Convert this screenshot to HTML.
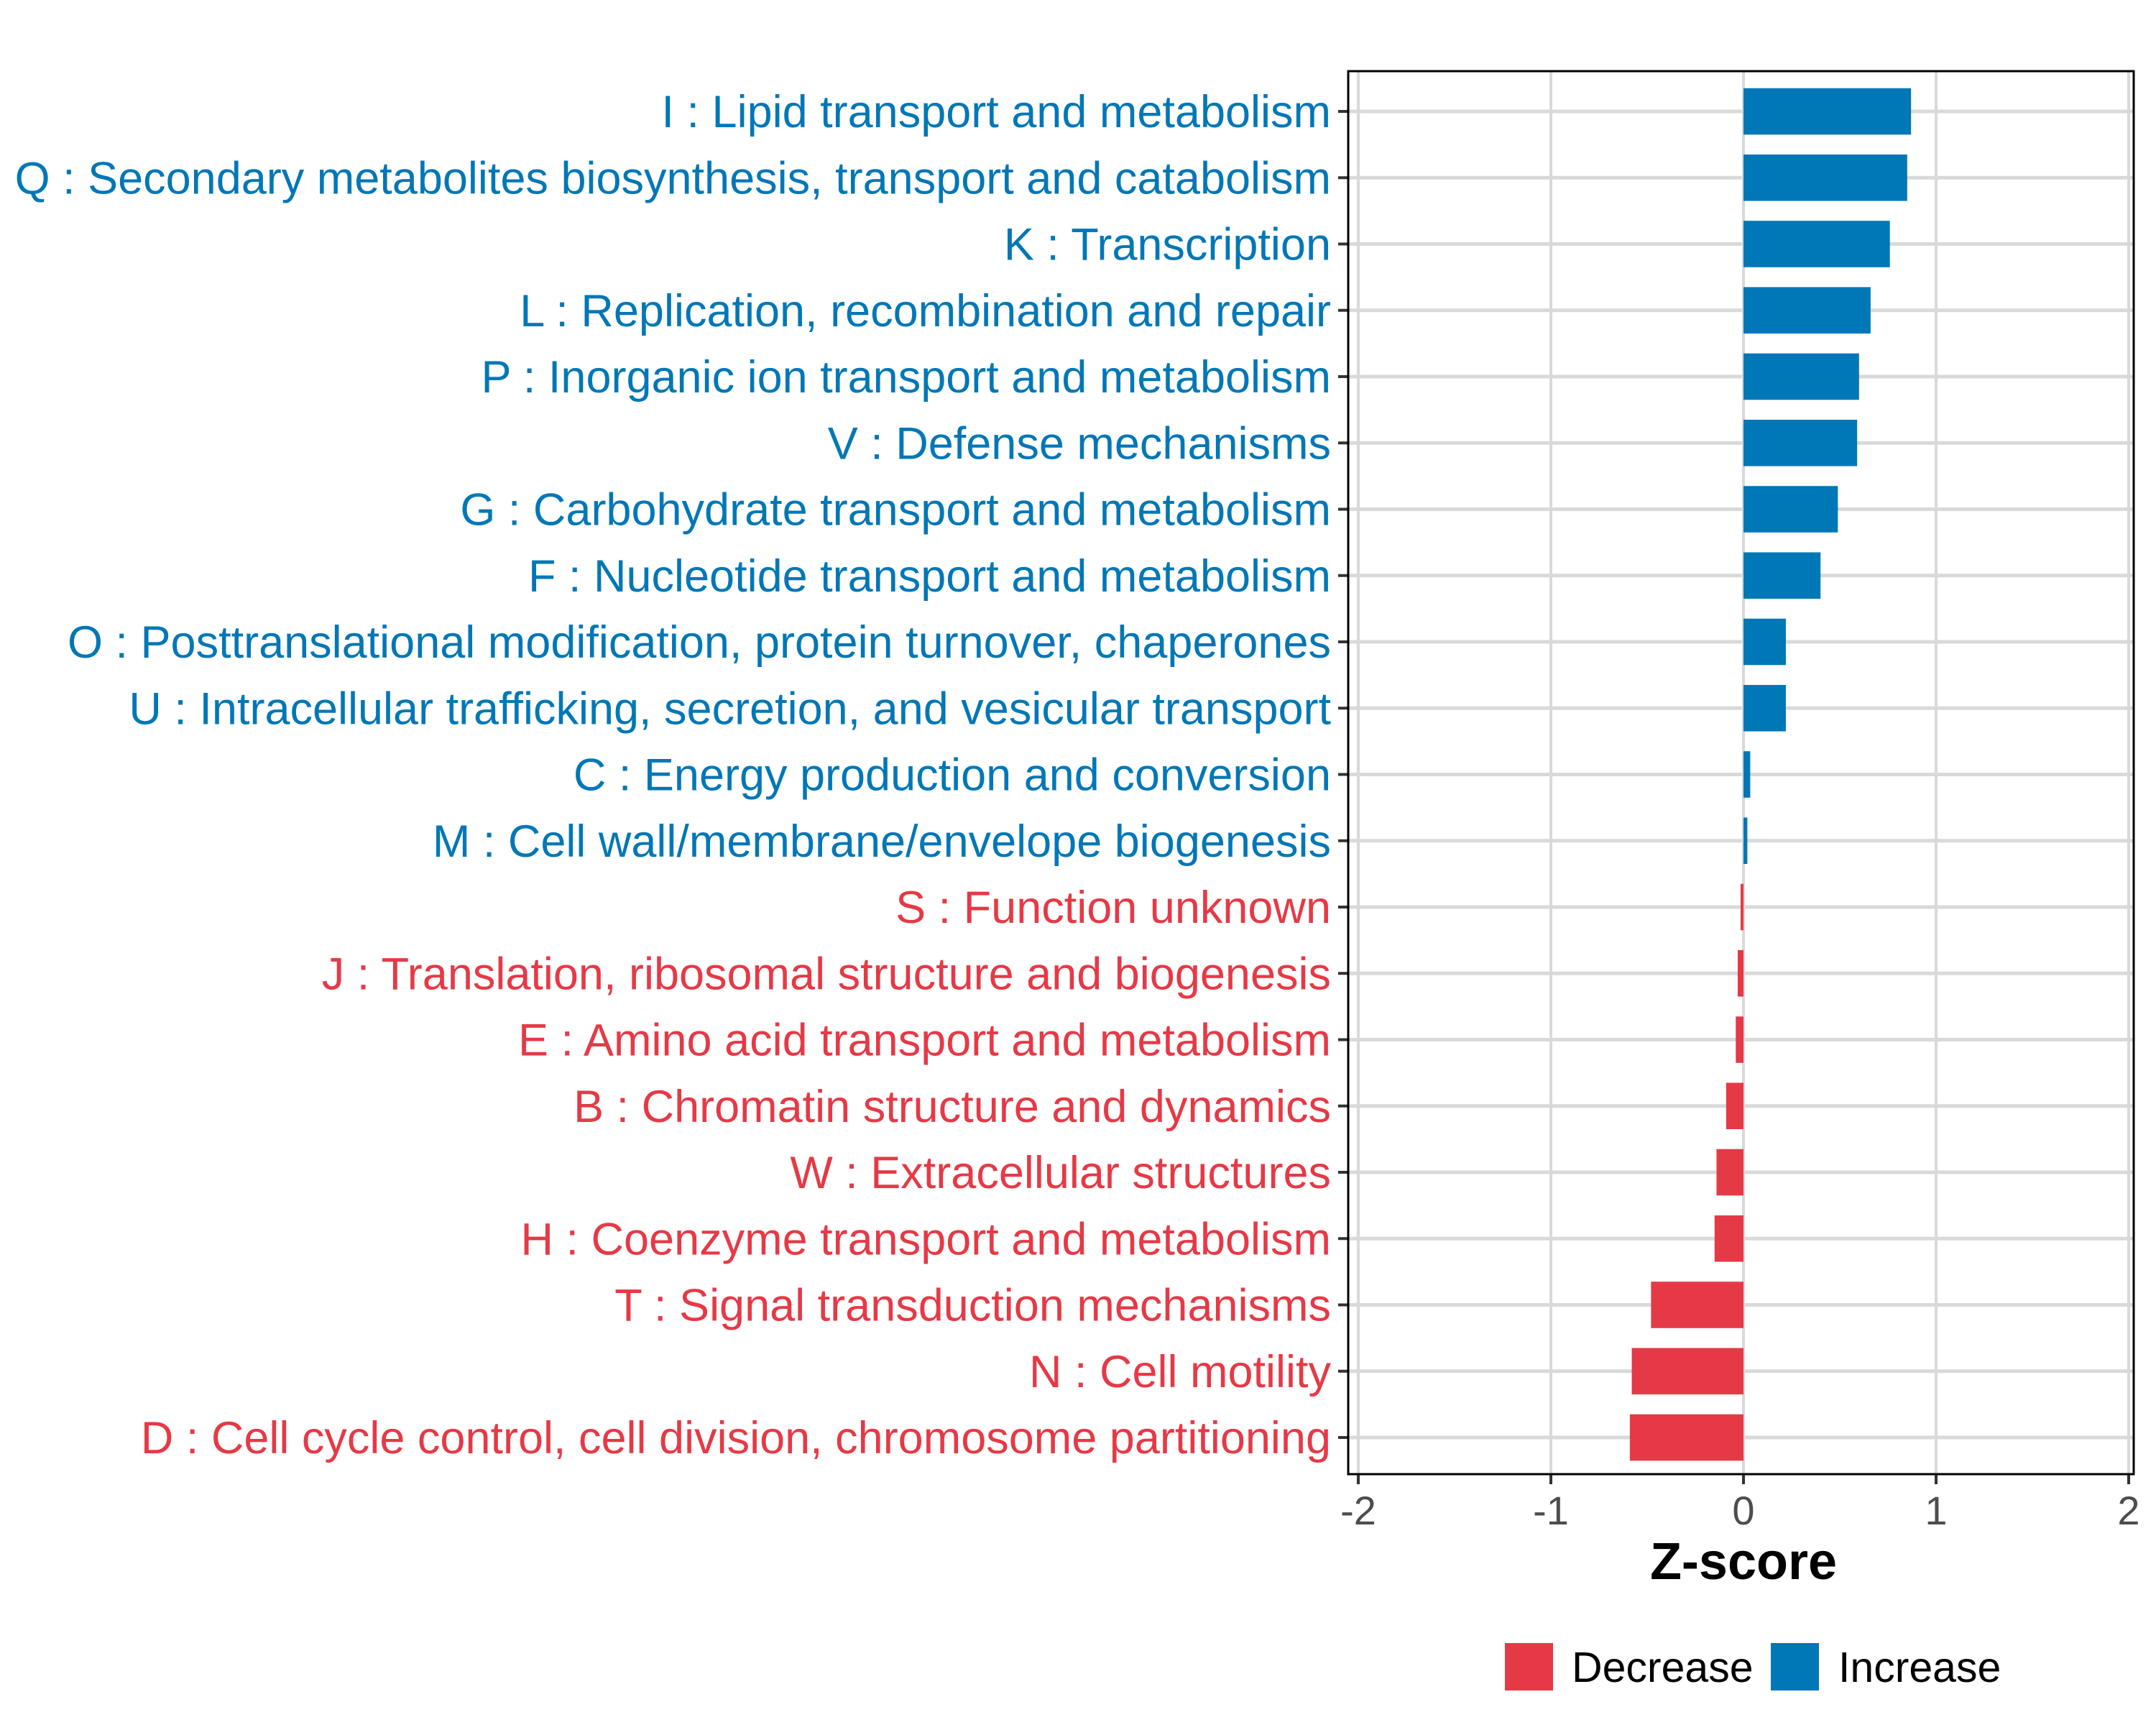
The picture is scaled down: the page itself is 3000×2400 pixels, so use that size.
<!DOCTYPE html>
<html><head><meta charset="utf-8"><style>
html,body{margin:0;padding:0;background:#fff;}
svg{display:block;font-family:"Liberation Sans",Arial,sans-serif;}
</style></head><body>
<svg id="chart" width="3000" height="2400" viewBox="0 0 3000 2400" xmlns="http://www.w3.org/2000/svg">
<rect width="3000" height="2400" fill="#fff"/>
<g id="grid"></g><g id="bars"></g><g id="axes"></g>
<text x="2426" y="2197" font-size="72" font-weight="bold" text-anchor="middle" fill="#000">Z-score</text>
<g>
<rect x="2094" y="2286" width="67" height="66" fill="#E63946"/>
<text x="2187" y="2340" font-size="59" fill="#000">Decrease</text>
<rect x="2464" y="2286" width="67" height="66" fill="#0077B6"/>
<text x="2558" y="2340" font-size="59" fill="#000">Increase</text>
</g>
</svg>
<script>
const categories = [
"I : Lipid transport and metabolism",
"Q : Secondary metabolites biosynthesis, transport and catabolism",
"K : Transcription",
"L : Replication, recombination and repair",
"P : Inorganic ion transport and metabolism",
"V : Defense mechanisms",
"G : Carbohydrate transport and metabolism",
"F : Nucleotide transport and metabolism",
"O : Posttranslational modification, protein turnover, chaperones",
"U : Intracellular trafficking, secretion, and vesicular transport",
"C : Energy production and conversion",
"M : Cell wall/membrane/envelope biogenesis",
"S : Function unknown",
"J : Translation, ribosomal structure and biogenesis",
"E : Amino acid transport and metabolism",
"B : Chromatin structure and dynamics",
"W : Extracellular structures",
"H : Coenzyme transport and metabolism",
"T : Signal transduction mechanisms",
"N : Cell motility",
"D : Cell cycle control, cell division, chromosome partitioning"
];
const zscores = [0.87,0.85,0.76,0.66,0.60,0.59,0.49,0.40,0.22,0.22,0.035,0.02,-0.015,-0.03,-0.04,-0.09,-0.14,-0.15,-0.48,-0.58,-0.59];
const xTicks = [-2,-1,0,1,2];
const xTickLabels = ["-2","-1","0","1","2"];

const NS="http://www.w3.org/2000/svg";
const PL=1876, PR=2969, PT=99, PB=2051;
const X0=2426, UNIT=268;
const xScale = v => X0 + v*UNIT;
const Y0=155, STEP=(2000-155)/(categories.length-1);
const yScale = i => Y0 + i*STEP;
const BH = STEP*0.7;
const BLUE="#0077B6", RED="#E63946";
function mk(tag, attrs, parent){const e=document.createElementNS(NS,tag);for(const k in attrs)e.setAttribute(k,attrs[k]);parent.appendChild(e);return e;}
const grid=document.getElementById('grid'), bars=document.getElementById('bars'), axes=document.getElementById('axes');
mk('rect',{x:PL,y:PT,width:PR-PL,height:PB-PT,fill:'#fff'},grid);
xTicks.forEach((t,i)=>{
  const l=mk('line',{x1:xScale(t),x2:xScale(t),y1:PT,y2:PB,stroke:'#d9d9d9','stroke-width':4},grid);
  
  
  const tk=mk('line',{x1:xScale(t),x2:xScale(t),y1:PB,y2:PB+14,stroke:'#333','stroke-width':4},axes);
  
  
  const tx=mk('text',{x:xScale(t),y:PB+70,'font-size':56,'text-anchor':'middle',fill:'#4d4d4d'},axes);
  tx.textContent=xTickLabels[i];
  
  
});
categories.forEach((c,i)=>{
  const y=yScale(i), v=zscores[i], col=v>=0?BLUE:RED;
  const g=mk('line',{x1:PL,x2:PR,y1:y,y2:y,stroke:'#d9d9d9','stroke-width':5},grid);
  
  
  const x1=Math.min(xScale(0),xScale(v)), w=Math.abs(xScale(v)-xScale(0));
  const b=mk('rect',{x:x1,y:y-BH/2,width:Math.max(w,1),height:BH,fill:col},bars);
  
  
  const tk=mk('line',{x1:PL-14,x2:PL,y1:y,y2:y,stroke:'#333','stroke-width':4},axes);
  
  
  const t=mk('text',{x:PL-24,y:y+22,'font-size':63,'text-anchor':'end',fill:col},axes);
  t.textContent=c;
  
  
});
const border=mk('rect',{x:PL,y:PT,width:PR-PL,height:PB-PT,fill:'none',stroke:'#000','stroke-width':3},axes);


</script>
</body></html>
